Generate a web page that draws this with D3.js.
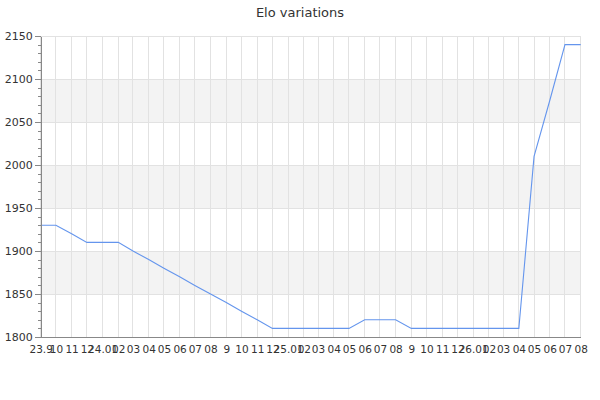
<!DOCTYPE html>
<html>
<head>
<meta charset="utf-8">
<script src="https://cdn.jsdelivr.net/npm/d3@7"></script>
<style>
  body { margin: 0; background: #fff; }
  text { font-family: "DejaVu Sans", sans-serif; fill: #333; }
  .grid line { stroke: #e2e2e2; shape-rendering: crispEdges; }
  .band { fill: #f3f3f3; }
  .axis path, .axis line { stroke: #888; shape-rendering: crispEdges; }
  .axis text { font-size: 11px; fill: #333; }
  .x.axis text { font-size: 10.5px; }
  .elo { fill: none; stroke: #6495ed; stroke-width: 1.1; }
</style>
</head>
<body>
<div id="chart"></div>
<script>
var margin = {top: 36, right: 19.3, bottom: 63, left: 40.7},
    widthGlobal = 600,
    heightGlobal = 400,
    width = widthGlobal - margin.left - margin.right,
    height = heightGlobal - margin.top - margin.bottom,

    // one point per month, Sep 2023 -> Aug 2026
    months = d3.timeMonth.range(new Date(2023, 8, 1), new Date(2026, 8, 1)),
    elo = [1930, 1930, 1920, 1910, 1910, 1910, 1900, 1890, 1880, 1870, 1860, 1850,
           1840, 1830, 1820, 1810, 1810, 1810, 1810, 1810, 1810, 1820, 1820, 1820,
           1810, 1810, 1810, 1810, 1810, 1810, 1810, 1810, 2010, 2075, 2140, 2140],
    tickLabels = ["23.9", "10", "11", "12", "24.01", "02", "03", "04", "05", "06", "07", "08",
                  "9", "10", "11", "12", "25.01", "02", "03", "04", "05", "06", "07", "08",
                  "9", "10", "11", "12", "26.01", "02", "03", "04", "05", "06", "07", "08"],
    yTicks = [1800, 1850, 1900, 1950, 2000, 2050, 2100, 2150],
    yMinor = d3.range(1800, 2151, 10),

    //scales
    x = d3.scaleTime()
        .domain([months[0], months[months.length - 1]])
        .range([0, width]),
    y = d3.scaleLinear()
        .domain([1800, 2150])
        .range([height, 0]),

    svg = d3.select("#chart")
        .append("svg")
        .attr("width", widthGlobal)
        .attr("height", heightGlobal),
    chart = svg.append("g")
        .attr("transform", "translate(" + margin.left + "," + margin.top + ")");

svg.append("text")
    .attr("x", widthGlobal / 2)
    .attr("y", 16.5)
    .attr("text-anchor", "middle")
    .style("font-size", "13px")
    .text("Elo variations");

// alternating bands, every other interval from the top
chart.append("g").selectAll(".band")
    .data(d3.pairs(yTicks).filter(function (d, i) { return i % 2 == 1; }))
    .enter().append("rect")
    .attr("class", "band")
    .attr("x", 0)
    .attr("y", function (d) { return y(d[1]); })
    .attr("width", width)
    .attr("height", function (d) { return y(d[0]) - y(d[1]); });

chart.append("g")
    .attr("class", "grid")
    .selectAll("line.h")
    .data(yTicks)
    .enter().append("line")
    .attr("x1", 0)
    .attr("x2", width)
    .attr("y1", function (d) { return y(d); })
    .attr("y2", function (d) { return y(d); });

chart.append("g")
    .attr("class", "grid")
    .selectAll("line.v")
    .data(months)
    .enter().append("line")
    .attr("x1", function (d) { return x(d); })
    .attr("x2", function (d) { return x(d); })
    .attr("y1", 0)
    .attr("y2", height);

chart.append("path")
    .datum(elo)
    .attr("class", "elo")
    .attr("d", d3.line()
        .x(function (d, i) { return x(months[i]); })
        .y(function (d) { return y(d); }));

// y axis: minor ticks then major ticks with labels
chart.append("g")
    .attr("class", "axis")
    .call(d3.axisLeft(y).tickValues(yMinor).tickSize(3).tickFormat(""))
    .select(".domain").remove();
chart.append("g")
    .attr("class", "axis")
    .call(d3.axisLeft(y).tickValues(yTicks).tickSize(6).tickSizeOuter(0).tickPadding(2).tickFormat(d3.format("d")));

// x axis: no tick marks, only labels
chart.append("g")
    .attr("class", "x axis")
    .attr("transform", "translate(0," + height + ")")
    .call(d3.axisBottom(x)
        .tickValues(months)
        .tickSize(0)
        .tickSizeOuter(0)
        .tickPadding(9)
        .tickFormat(function (d, i) { return tickLabels[i]; }));
</script>
</body>
</html>
